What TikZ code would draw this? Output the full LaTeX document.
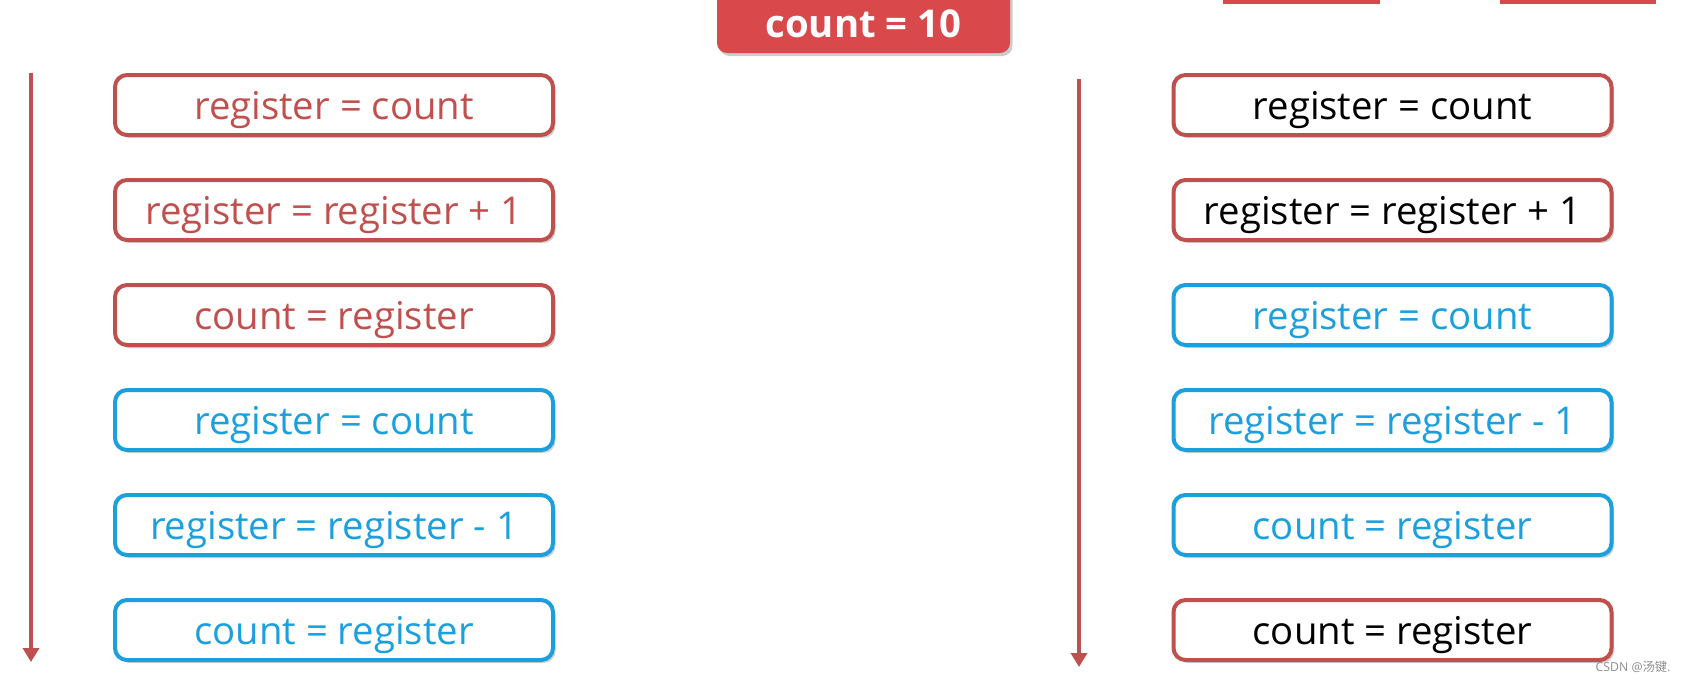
\documentclass[tikz,border=0pt]{standalone}
\usepackage{fontspec}
\setmainfont{Open Sans}
\newfontfamily\cjk{Noto Sans CJK SC}
\usetikzlibrary{arrows.meta,shadows}
\definecolor{boxred}{RGB}{192,80,77}
\definecolor{boxblue}{RGB}{27,160,221}
\definecolor{cntred}{RGB}{217,72,75}
\begin{document}
\begin{tikzpicture}[
    font=\fontsize{21.8}{26}\selectfont,
    opbox/.style={draw=#1, line width=0.08cm, rounded corners=0.24cm, fill=white,
      minimum width=8.76cm, minimum height=1.2cm, inner sep=0pt,
      text height=20.7pt, text depth=4.4pt,
      drop shadow={shadow xshift=0.05cm, shadow yshift=-0.06cm, opacity=0.18, fill=black}},
    timeline/.style={boxred, line width=0.08cm, -{Triangle[width=0.32cm, length=0.28cm]}},
  ]
  \useasboundingbox (0,0) rectangle (33.72,-13.68);
  \clip (0,0) rectangle (33.72,-13.68);
  % 顶部被截掉的方块
  \fill[cntred] (24.46,0.5) rectangle (27.6,-0.08);
  \fill[cntred] (30.0,0.5) rectangle (33.12,-0.08);
  % 共享变量 count
  \fill[cntred, rounded corners=0.2cm,
    drop shadow={shadow xshift=0.05cm, shadow yshift=-0.06cm, opacity=0.2, fill=black}]
    (14.34,0.5) rectangle (20.2,-1.06);
  \node[text=white, font=\fontsize{21.8}{26}\selectfont\bfseries] (cnt) at (17.27,-0.47) {count = 10};
  % 时间轴
  \coordinate (ltop) at (0.62,-1.46);
  \coordinate (lbot) at (0.62,-13.24);
  \coordinate (rtop) at (21.58,-1.58);
  \coordinate (rbot) at (21.58,-13.34);
  \draw[timeline] (ltop) -- (lbot);
  \draw[timeline] (rtop) -- (rbot);
  % 左侧指令序列
  \foreach \i/\txt/\col/\tcol in {1/register = count/boxred/boxred,
      2/register = register + 1/boxred/boxred,
      3/count = register/boxred/boxred,
      4/register = count/boxblue/boxblue,
      5/register = register - 1/boxblue/boxblue,
      6/count = register/boxblue/boxblue}{
    \node[opbox=\col, text=\tcol] (L\i) at (6.68,-2.1*\i) {\txt};
  }
  % 右侧指令序列
  \foreach \i/\txt/\col/\tcol in {1/register = count/boxred/black,
      2/register = register + 1/boxred/black,
      3/register = count/boxblue/boxblue,
      4/register = register - 1/boxblue/boxblue,
      5/count = register/boxblue/boxblue,
      6/count = register/boxred/black}{
    \node[opbox=\col, text=\tcol] (R\i) at (27.85,-2.1*\i) {\txt};
  }
  % 水印
  \node[text=black!45, font=\fontsize{7}{8}\selectfont] (mark) at (32.66,-13.34) {CSDN @{\cjk 汤键}.};
\end{tikzpicture}
\end{document}
